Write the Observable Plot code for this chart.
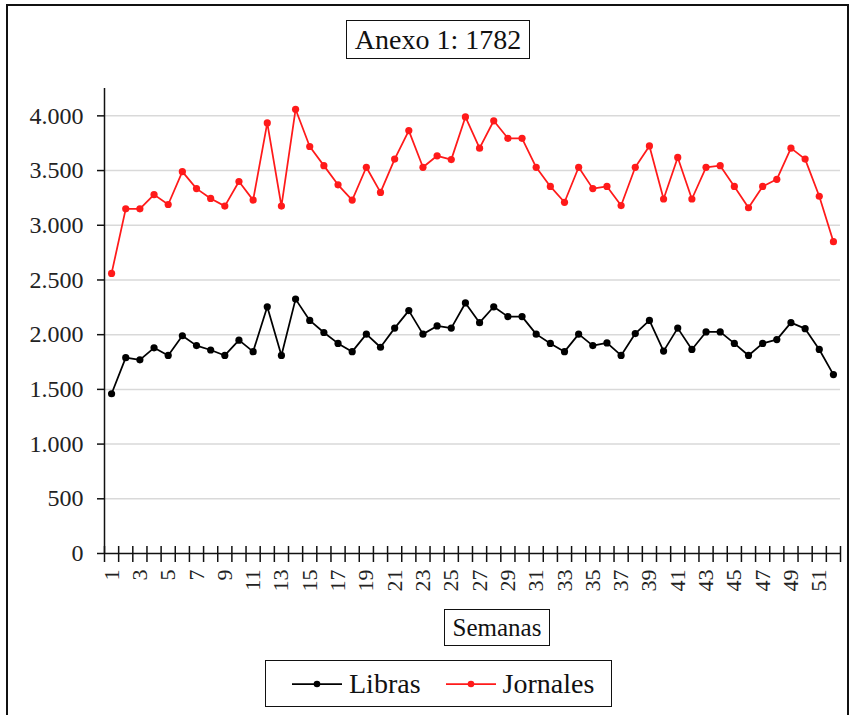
<!DOCTYPE html>
<html>
<head>
<meta charset="utf-8">
<script src="https://cdn.jsdelivr.net/npm/d3@7"></script>
<script src="https://cdn.jsdelivr.net/npm/@observablehq/plot@0.6"></script>
<style>
  html, body { margin: 0; padding: 0; background: #fff; overflow: hidden; width: 854px; height: 715px; }
  body { position: relative; font-family: "Liberation Serif", "Times New Roman", serif; color: #111; }
  #frame { position: absolute; left: 6px; top: 4px; width: 843px; height: 740px; border: 2px solid #111; box-sizing: border-box; }
  .box { position: absolute; border: 1.5px solid #111; box-sizing: border-box; display: flex; align-items: center; justify-content: center; background: #fff; white-space: nowrap; }
  #title { left: 346px; top: 20px; width: 184px; height: 39px; font-size: 28px; }
  #xtitle { left: 444px; top: 609px; width: 106px; height: 37px; font-size: 25px; }
  #legend { left: 265px; top: 660px; width: 347px; height: 47px; font-size: 28px; justify-content: flex-start; padding-left: 26px; }
  #legend .item { display: flex; align-items: center; }
  #legend .item + .item { margin-left: 25px; }
  #legend svg { margin-right: 5px; }
  #chart { position: absolute; left: 0; top: 75px; }
</style>
</head>
<body>
<div id="frame"></div>
<div id="title" class="box">Anexo 1: 1782</div>
<div id="chart"></div>
<div id="xtitle" class="box">Semanas</div>
<div id="legend" class="box"></div>
<script>
// ---- data ----
const semanas = d3.range(1, 53);
const libras = [1460, 1790, 1770, 1880, 1810, 1990, 1900, 1860, 1810, 1950,
                1845, 2255, 1810, 2325, 2130, 2020, 1920, 1845, 2005, 1885,
                2060, 2220, 2005, 2080, 2060, 2290, 2110, 2255, 2165, 2165,
                2005, 1920, 1845, 2005, 1900, 1925, 1810, 2010, 2130, 1850,
                2060, 1865, 2025, 2025, 1920, 1810, 1920, 1955, 2110, 2055,
                1865, 1635];
const jornales = [2560, 3150, 3150, 3280, 3190, 3490, 3335, 3245, 3175, 3400,
                  3230, 3935, 3175, 4060, 3720, 3545, 3370, 3230, 3530, 3300,
                  3605, 3865, 3530, 3635, 3600, 3990, 3705, 3955, 3795, 3795,
                  3530, 3355, 3210, 3530, 3335, 3355, 3180, 3530, 3725, 3240,
                  3620, 3240, 3530, 3545, 3355, 3160, 3355, 3420, 3705, 3605,
                  3265, 2850];
const yTicks = [0, 500, 1000, 1500, 2000, 2500, 3000, 3500, 4000];
const xLabelTicks = semanas.filter(w => w % 2 === 1);
const xBoundaries = d3.range(0.5, 53, 1);
const seriesNames = ["Libras", "Jornales"];
const seriesColors = ["#000000", "#ff1a1a"];

const rows = [];
semanas.forEach((w, i) => {
  rows.push({semana: w, serie: "Libras", valor: libras[i]});
  rows.push({semana: w, serie: "Jornales", valor: jornales[i]});
});

const fmt = d => d3.format(",")(d).replace(/,/g, ".");

const plot = Plot.plot({
  width: 854,
  height: 525,
  marginLeft: 104,
  marginRight: 14,
  marginTop: 13,
  marginBottom: 47,
  style: {fontFamily: "Liberation Serif, Times New Roman, serif", color: "#222", background: "transparent"},
  x: {type: "linear", domain: [0.5, 52.5], axis: null},
  y: {domain: [0, 4250], axis: null},
  color: {domain: seriesNames, range: seriesColors},
  marks: [
    Plot.gridY(yTicks.filter(d => d > 0), {stroke: "#d9d9d9", strokeOpacity: 1, strokeWidth: 1.5}),
    Plot.axisY({ticks: yTicks, tickSize: 7, tickPadding: 14, tickFormat: fmt, fontSize: 24, label: null, stroke: "#111", strokeWidth: 1.5}),
    Plot.ruleX([0.5], {stroke: "#111", strokeWidth: 1.5}),
    Plot.ruleY([0], {stroke: "#111", strokeWidth: 1.5}),
    Plot.ruleX(xBoundaries, {x: d => d, y1: 0, y2: 0, insetTop: -7, insetBottom: -9, stroke: "#111", strokeWidth: 1.5}),
    Plot.axisX({ticks: xLabelTicks, tickSize: 0, tickPadding: 16, tickRotate: -90, fontSize: 22, label: null}),
    Plot.line(rows, {x: "semana", y: "valor", z: "serie", stroke: "serie", strokeWidth: 1.75}),
    Plot.dot(rows, {x: "semana", y: "valor", fill: "serie", r: 3.6, stroke: "none"})
  ]
});
document.getElementById("chart").appendChild(plot);

// legend
const legend = document.getElementById("legend");
seriesNames.forEach((name, i) => {
  const item = document.createElement("div");
  item.className = "item";
  item.innerHTML = `<svg width="52" height="12"><line x1="0" y1="6" x2="50" y2="6" stroke="${seriesColors[i]}" stroke-width="1.75"/><circle cx="25" cy="6" r="3.3" fill="${seriesColors[i]}"/></svg><span>${name}</span>`;
  legend.appendChild(item);
});
</script>
</body>
</html>
